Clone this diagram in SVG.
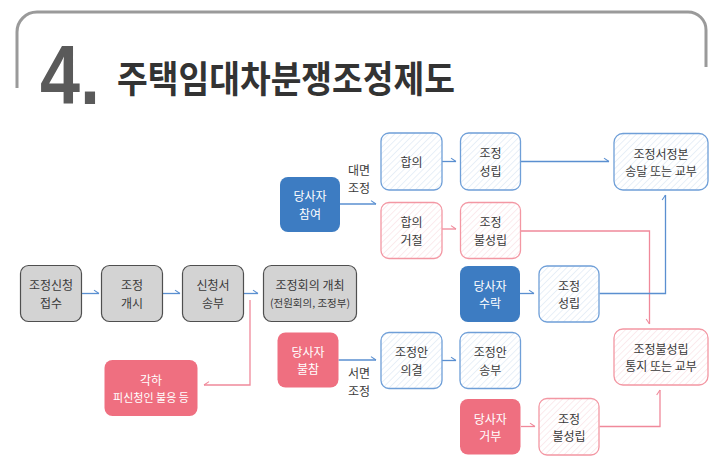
<svg xmlns="http://www.w3.org/2000/svg" width="728" height="474" viewBox="0 0 728 474">
<defs>
<pattern id="hb" width="4.5" height="4.5" patternUnits="userSpaceOnUse" patternTransform="rotate(45)"><rect width="4.5" height="4.5" fill="#fff"/><line x1="0" y1="0" x2="0" y2="4.5" stroke="#d6e3f3" stroke-width="1.1"/></pattern>
<pattern id="hp" width="4.5" height="4.5" patternUnits="userSpaceOnUse" patternTransform="rotate(45)"><rect width="4.5" height="4.5" fill="#fff"/><line x1="0" y1="0" x2="0" y2="4.5" stroke="#fadce1" stroke-width="1.1"/></pattern>
<marker id="lb" markerWidth="10" markerHeight="10" viewBox="-8 -6 10 12" refX="0" refY="0" orient="auto" markerUnits="userSpaceOnUse"><path d="M-6,-4 L0,0" fill="none" stroke="#5a8fd0" stroke-width="1.3"/></marker>
<marker id="lp" markerWidth="10" markerHeight="10" viewBox="-8 -6 10 12" refX="0" refY="0" orient="auto" markerUnits="userSpaceOnUse"><path d="M-6,-4 L0,0" fill="none" stroke="#f0899a" stroke-width="1.3"/></marker>
<marker id="rp" markerWidth="10" markerHeight="10" viewBox="-8 -6 10 12" refX="0" refY="0" orient="auto" markerUnits="userSpaceOnUse"><path d="M-6,4 L0,0" fill="none" stroke="#f0899a" stroke-width="1.3"/></marker>
</defs>
<style>
text{font-family:"Noto Sans CJK KR","Noto Sans",sans-serif;font-size:12px;fill:#3a3a3a;text-anchor:middle;dominant-baseline:central}
.w{fill:#fff}
.gray{fill:#d3d3d3;stroke:#4f4f4f;stroke-width:1.2}
.blue{fill:#3d7cc2}
.pink{fill:#ef6f80}
.hb{fill:url(#hb);stroke:#6f9fd8;stroke-width:1.3}
.hp{fill:url(#hp);stroke:#f397a3;stroke-width:1.3}
.cb{fill:none;stroke:#5a8fd0;stroke-width:1.3}
.cp{fill:none;stroke:#f0899a;stroke-width:1.3}
</style>
<rect width="728" height="474" fill="#fff"/>
<g id="header">
<path d="M17,88 V32 A20,20 0 0 1 37,12 H688 A18,18 0 0 1 706,30 V67" fill="none" stroke="#9a9a9a" stroke-width="3"/>
<text x="40" y="104" style="font-family:'Liberation Sans',sans-serif;font-size:84px;font-weight:bold;fill:#5a5a5a;text-anchor:start;dominant-baseline:auto" textLength="60" lengthAdjust="spacingAndGlyphs">4.</text>
<text x="117" y="93" style="font-size:37px;font-weight:bold;fill:#333;text-anchor:start;dominant-baseline:auto" textLength="338" lengthAdjust="spacingAndGlyphs">주택임대차분쟁조정제도</text>
</g>
<g id="connectors">
<path class="cb" d="M82,293.5 H99" marker-end="url(#lb)"/>
<path class="cb" d="M163,293.5 H180" marker-end="url(#lb)"/>
<path class="cb" d="M243,293.5 H258" marker-end="url(#lb)"/>
<path class="cp" d="M250,300 V385 H204" marker-end="url(#rp)"/>
<path class="cb" d="M340,204 H376" marker-end="url(#lb)"/>
<path class="cb" d="M442,161.5 H456" marker-end="url(#lb)"/>
<path class="cp" d="M442,229 H456" marker-end="url(#lp)"/>
<path class="cb" d="M521,161.5 H609" marker-end="url(#lb)"/>
<path class="cp" d="M521,231 H649.5 V324" marker-end="url(#rp)"/>
<path class="cb" d="M520,293.5 H534" marker-end="url(#lb)"/>
<path class="cb" d="M599.5,293.5 H665.5 V195" marker-end="url(#lb)"/>
<path class="cb" d="M338.5,360 H376" marker-end="url(#lb)"/>
<path class="cb" d="M442,360.5 H456" marker-end="url(#lb)"/>
<path class="cp" d="M521,426.5 H535" marker-end="url(#lp)"/>
<path class="cp" d="M599.5,426.5 H660 V390" marker-end="url(#lp)"/>
<text x="359" y="169.5">대면</text><text x="359" y="187.5">조정</text>
<text x="359" y="372.5">서면</text><text x="359" y="390.5">조정</text>
</g>
<g id="n-apply"><rect class="gray" x="20.5" y="265.5" width="61" height="56" rx="8"/><text x="51" y="284.75">조정신청</text><text x="51" y="302.25">접수</text></g>
<g id="n-start"><rect class="gray" x="101.5" y="265.5" width="61" height="56" rx="8"/><text x="132" y="284.75">조정</text><text x="132" y="302.25">개시</text></g>
<g id="n-send"><rect class="gray" x="182.5" y="265.5" width="61" height="56" rx="8"/><text x="213" y="284.75">신청서</text><text x="213" y="302.25">송부</text></g>
<g id="n-meeting"><rect class="gray" x="263.5" y="265.5" width="93" height="56" rx="8"/><text x="310" y="284.5">조정회의 개최</text><text x="310" y="302" style="font-size:10.5px">(전원회의, 조정부)</text></g>
<g id="n-reject"><rect class="pink" x="104.5" y="360" width="93" height="56" rx="8"/><text class="w" x="151" y="379.5">각하</text><text class="w" x="151" y="397" style="font-size:11px">피신청인 불응 등</text></g>
<g id="n-attend"><rect class="blue" x="280" y="177" width="60" height="55" rx="8"/><text class="w" x="310" y="195.75">당사자</text><text class="w" x="310" y="213.25">참여</text></g>
<g id="n-agree"><rect class="hb" x="381" y="133" width="61" height="57" rx="8"/><text x="411.5" y="161.5">합의</text></g>
<g id="n-success1"><rect class="hb" x="460.5" y="133" width="60" height="57" rx="8"/><text x="490.5" y="152.75">조정</text><text x="490.5" y="170.25">성립</text></g>
<g id="n-refuse"><rect class="hp" x="381" y="202.5" width="61" height="56" rx="8"/><text x="411.5" y="221.75">합의</text><text x="411.5" y="239.25">거절</text></g>
<g id="n-fail1"><rect class="hp" x="460.5" y="202.5" width="60" height="56" rx="8"/><text x="490.5" y="221.75">조정</text><text x="490.5" y="239.25">불성립</text></g>
<g id="n-deliver"><rect class="hb" x="614" y="133.5" width="94" height="56.5" rx="9"/><text x="661" y="153">조정서정본</text><text x="661" y="170.5">송달 또는 교부</text></g>
<g id="n-accept"><rect class="blue" x="460" y="266" width="60" height="56" rx="8"/><text class="w" x="490" y="285.25">당사자</text><text class="w" x="490" y="302.75">수락</text></g>
<g id="n-success2"><rect class="hb" x="539" y="266" width="60" height="56" rx="8"/><text x="569" y="285.25">조정</text><text x="569" y="302.75">성립</text></g>
<g id="n-absent"><rect class="pink" x="277.5" y="332.5" width="61" height="55" rx="8"/><text class="w" x="308" y="351.25">당사자</text><text class="w" x="308" y="368.75">불참</text></g>
<g id="n-resolve"><rect class="hb" x="381" y="332.5" width="61" height="56" rx="8"/><text x="411.5" y="351.75">조정안</text><text x="411.5" y="369.25">의결</text></g>
<g id="n-plansend"><rect class="hb" x="460" y="332.5" width="60.5" height="56" rx="8"/><text x="490.3" y="351.75">조정안</text><text x="490.3" y="369.25">송부</text></g>
<g id="n-deny"><rect class="pink" x="460" y="399" width="60.5" height="55.5" rx="8"/><text class="w" x="490.3" y="418">당사자</text><text class="w" x="490.3" y="435.5">거부</text></g>
<g id="n-fail2"><rect class="hp" x="539" y="398.5" width="60" height="56.5" rx="8"/><text x="569" y="418">조정</text><text x="569" y="435.5">불성립</text></g>
<g id="n-notice"><rect class="hp" x="614" y="329" width="94" height="56" rx="9"/><text x="661" y="348.25">조정불성립</text><text x="661" y="365.75">통지 또는 교부</text></g>
</svg>
